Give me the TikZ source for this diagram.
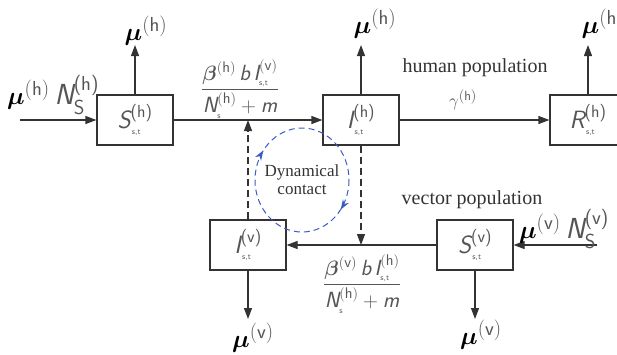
\documentclass[tikz,border=0pt]{standalone}
\usepackage{amsmath,bm}
\usepackage{fontspec}
\setmainfont{Liberation Serif}
\usetikzlibrary{arrows.meta,decorations.markings}
\definecolor{ln}{HTML}{333333}
\definecolor{lbl}{HTML}{555555}
\definecolor{cb}{HTML}{3A5BC0}
\newcommand{\sfi}[1]{\textsf{\itshape #1}}
\newcommand{\tinyst}[1]{\mbox{\fontsize{8}{8}\selectfont\sffamily #1}}
\newcommand{\cmp}[2]{$\sfi{#1}^{\textsf{(#2)}}_{\tinyst{\,s,t}}$}
\newcommand{\muh}[1]{$\boldsymbol{\mu}^{\textcolor{lbl}{(\textsf{#1})}}$}
\begin{document}
\begin{tikzpicture}[x=1pt,y=-1pt,
  box/.style={draw=ln,line width=1.2pt,minimum width=76pt,minimum height=50pt,inner sep=0pt,text=lbl,font=\fontsize{25}{25}\selectfont},
  arr/.style={draw=ln,line width=1.2pt,-{Triangle[length=11pt,width=8pt]}},
  dsh/.style={arr,dash pattern=on 7pt off 4pt},
  mu/.style={text=black,inner sep=0pt,font=\fontsize{29}{29}\selectfont},
  frac/.style={text=lbl,inner sep=0pt,font=\fontsize{22}{22}\selectfont},
  gam/.style={text=lbl,inner sep=0pt,font=\fontsize{19}{19}\selectfont},
  pop/.style={text=ln,inner sep=0pt,font=\fontsize{20}{20}\selectfont}]
\useasboundingbox (0,0) rectangle (617,354);
\clip (0,0) rectangle (617,354);
% boxes
\node[box] (Sh) at (135,120) {\cmp{S}{h}};
\node[box] (Ih) at (361,120) {\cmp{I}{h}};
\node[box] (Rh) at (588,120) {\cmp{R}{h}};
\node[box] (Iv) at (248,245) {\cmp{I}{v}};
\node[box] (Sv) at (475,245) {\cmp{S}{v}};
% free ends
\coordinate (inh) at (20,120);
\coordinate (inv) at (597,245);
\coordinate (uS) at (135,45);
\coordinate (uI) at (361,45);
\coordinate (uR) at (588,45);
\coordinate (dI) at (248,319);
\coordinate (dS) at (475,319);
% solid connectors
\draw[arr] (inh) -- (Sh);
\draw[arr] (Sh) -- (Ih);
\draw[arr] (Ih) -- (Rh);
\draw[arr] (Sv) -- (Iv);
\draw[arr] (inv) -- (Sv);
\draw[arr] (Sh) -- (uS);
\draw[arr] (Ih) -- (uI);
\draw[arr] (Rh) -- (uR);
\draw[arr] (Iv) -- (dI);
\draw[arr] (Sv) -- (dS);
% dashed
\draw[dsh] (Iv.north) -- (Iv.north |- Sh.east);
\draw[dsh] (Ih.south) -- (Ih.south |- Iv.east);
% labels
\node[mu] (lin) at (53,95) {\muh{h}\,\textcolor{lbl}{$\sfi{N}^{\textsf{(h)}}_{\textsf{S}}$}};
\node[mu] (l1) at (146,31) {\muh{h}};
\node[mu] (l2) at (375,24) {\muh{h}};
\node[mu] (l3) at (603,24) {\muh{h}};
\node[mu] (l4) at (253,338) {\muh{v}};
\node[mu] (l5) at (481,335) {\muh{v}};
\node[mu] (lvin) at (564,229) {\muh{v}\,\textcolor{lbl}{$\sfi{N}^{\textsf{(v)}}_{\textsf{S}}$}};
\node[frac] (f1) at (240,89) {$\dfrac{\boldsymbol{\beta}^{(\textsf{h})}\,\sfi{b}\,\sfi{I}^{(\textsf{v})}_{\tinyst{s,t}}}{\sfi{N}^{(\textsf{h})}_{\tinyst{s}}+\sfi{m}}$};
\node[frac] (f2) at (362,284) {$\dfrac{\boldsymbol{\beta}^{(\textsf{v})}\,\sfi{b}\,\sfi{I}^{(\textsf{h})}_{\tinyst{s,t}}}{\sfi{N}^{(\textsf{h})}_{\tinyst{s}}+\sfi{m}}$};
\node[gam] (g) at (463,100) {$\gamma^{(\textsf{h})}$};
\node[pop] (hp) at (475,68) {human population};
\node[pop] (vp) at (472,200) {vector population};
% dynamical contact
\node[text=ln,align=center,inner sep=0pt,font=\fontsize{17}{18}\selectfont] (dc) at (302,180) {Dynamical\\contact};
\draw[cb,line width=1pt,dash pattern=on 6pt off 4pt,
  postaction={decorate},
  decoration={markings,
    mark=at position 0.1 with {\arrow{Stealth[length=10pt,width=7pt]}},
    mark=at position 0.6 with {\arrow{Stealth[length=10pt,width=7pt]}}}]
  ([xshift=47pt]dc.center) arc[start angle=0,end angle=360,x radius=47,y radius=52];
\end{tikzpicture}
\end{document}
